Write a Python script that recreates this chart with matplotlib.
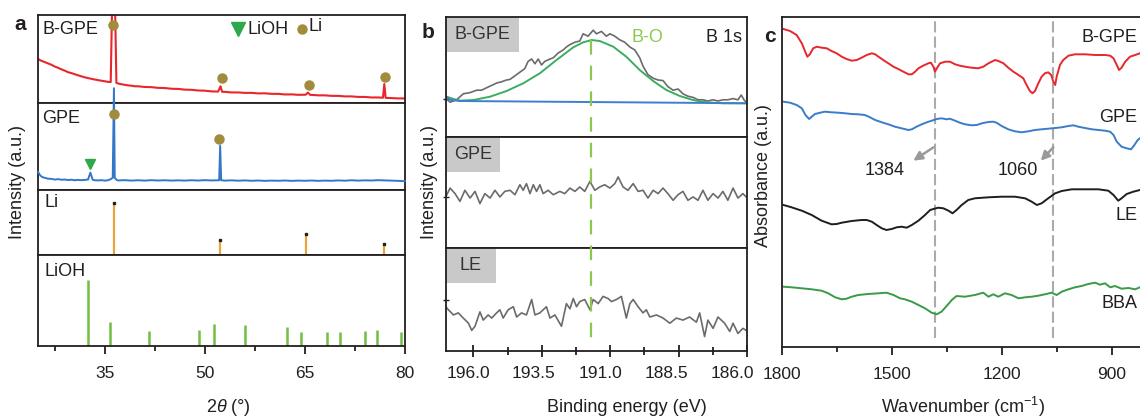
import matplotlib
matplotlib.use("Agg")
import matplotlib.pyplot as plt
import matplotlib.transforms as mtransforms
from matplotlib.lines import Line2D
from matplotlib.patches import Rectangle

plt.rcParams['font.family'] = ['Liberation Sans', 'DejaVu Sans']
plt.rcParams['mathtext.fontset'] = 'custom'
plt.rcParams['mathtext.rm'] = 'Liberation Sans'
plt.rcParams['mathtext.it'] = 'Liberation Sans:italic'
plt.rcParams['lines.scale_dashes'] = False

# ---------------- a: XRD ----------------
bgpe_tt = [25.0, 25.5, 26.0, 26.5, 27.0, 27.5, 28.0, 28.5, 29.0, 29.5, 30.0, 30.5, 31.0, 31.5,
           32.0, 32.5, 33.0, 33.5, 34.0, 34.5, 35.0, 35.5, 35.9, 36.15, 36.5, 36.75, 37.0, 37.5,
           38.0, 38.5, 39.0, 39.5, 40, 41, 42, 43, 44, 45, 46, 47, 48, 49, 50, 51, 52.0, 52.35,
           52.6, 53, 54, 55, 56, 57, 58, 59, 60, 61, 62, 63, 64, 65.1, 65.45, 65.8, 66, 67, 68,
           69, 70, 71, 72, 73, 74, 75, 76, 76.7, 76.9, 77.1, 78, 79, 80]
bgpe_int = [0.50, 0.48, 0.465, 0.45, 0.435, 0.415, 0.40, 0.383, 0.368, 0.35, 0.34, 0.327, 0.315,
            0.303, 0.292, 0.283, 0.275, 0.267, 0.26, 0.253, 0.247, 0.24, 0.238, 1.3, 1.3, 0.228,
            0.222, 0.213, 0.207, 0.2, 0.197, 0.19, 0.19, 0.182, 0.18, 0.172, 0.17, 0.162, 0.16,
            0.152, 0.15, 0.142, 0.14, 0.132, 0.13, 0.19, 0.127, 0.127, 0.12, 0.12, 0.115, 0.115,
            0.109, 0.11, 0.104, 0.104, 0.097, 0.098, 0.093, 0.094, 0.118, 0.092, 0.092, 0.087,
            0.087, 0.081, 0.081, 0.075, 0.075, 0.069, 0.069, 0.063, 0.063, 0.06, 0.215, 0.058,
            0.056, 0.052, 0.052]

gpe_tt = [25.0, 25.3, 25.6, 26.0, 26.5, 27.0, 27.5, 28.0, 28.5, 29.0, 29.5, 30.0, 30.5, 31.0,
          31.5, 32.0, 32.5, 32.85, 33.2, 33.5, 34.0, 34.5, 35.0, 35.5, 35.9, 36.2, 36.38, 36.5,
          36.8, 37.0, 38, 39, 40, 41, 42, 43, 44, 45, 46, 47, 48, 49, 50, 51, 52.15, 52.3, 52.45,
          53, 54, 55, 56, 57, 58, 59, 60, 61, 62, 63, 64, 65, 66, 67, 68, 69, 70, 71, 72, 73, 74,
          75, 76, 77, 78, 79, 80]
gpe_int = [0.21, 0.17, 0.15, 0.14, 0.13, 0.128, 0.12, 0.125, 0.118, 0.12, 0.115, 0.118, 0.112,
           0.116, 0.113, 0.116, 0.12, 0.2, 0.118, 0.112, 0.11, 0.113, 0.108, 0.112, 0.125, 0.14,
           1.17, 0.14, 0.115, 0.11, 0.113, 0.108, 0.112, 0.108, 0.113, 0.109, 0.112, 0.108, 0.111,
           0.108, 0.112, 0.109, 0.113, 0.11, 0.112, 0.51, 0.112, 0.108, 0.111, 0.107, 0.11, 0.106,
           0.109, 0.105, 0.108, 0.106, 0.109, 0.105, 0.108, 0.106, 0.109, 0.105, 0.108, 0.106,
           0.11, 0.107, 0.112, 0.108, 0.111, 0.109, 0.113, 0.11, 0.108, 0.105, 0.102]

li_pos = [36.4, 52.3, 65.2, 76.8]
li_h = [0.80, 0.23, 0.32, 0.17]
lioh_pos = [32.55, 35.8, 41.6, 49.15, 51.45, 56.0, 62.25, 64.35, 68.25, 70.2, 73.95, 75.85, 79.45]
lioh_h = [0.725, 0.26, 0.16, 0.18, 0.24, 0.23, 0.205, 0.154, 0.154, 0.154, 0.17, 0.176, 0.154]

bgpe_li_mark_x = [36.3, 52.55, 65.55, 76.95]
bgpe_li_mark_y = [0.886, 0.28, 0.205, 0.30]
gpe_li_mark_x = [36.35, 52.1]
gpe_li_mark_y = [0.87, 0.59]
gpe_lioh_mark_x = [32.85]
gpe_lioh_mark_y = [0.30]

# ---------------- b: XPS B 1s ----------------
xps_bgpe_be = [197.0, 196.85, 196.61, 196.37, 196.12, 195.88, 195.70, 195.52, 195.33, 195.15,
               194.97, 194.79, 194.66, 194.48, 194.30, 194.12, 194.00, 193.87, 193.75, 193.63,
               193.51, 193.39, 193.20, 193.08, 192.90, 192.72, 192.60, 192.47, 192.29, 192.11,
               191.99, 191.81, 191.62, 191.50, 191.32, 191.14, 191.01, 190.83, 190.65, 190.47,
               190.28, 190.10, 189.92, 189.80, 189.62, 189.43, 189.25, 189.07, 188.89, 188.70,
               188.52, 188.34, 188.16, 187.97, 187.79, 187.61, 187.43, 187.24, 187.06, 186.88,
               186.70, 186.51, 186.33, 186.21, 186.11, 186.03]
xps_bgpe_int = [0.32, 0.29, 0.31, 0.36, 0.37, 0.39, 0.39, 0.41, 0.43, 0.45, 0.46, 0.475, 0.48,
                0.51, 0.54, 0.57, 0.63, 0.65, 0.61, 0.65, 0.60, 0.63, 0.65, 0.66, 0.70, 0.725,
                0.75, 0.77, 0.79, 0.80, 0.86, 0.84, 0.89, 0.86, 0.88, 0.84, 0.86, 0.84, 0.81,
                0.79, 0.75, 0.725, 0.66, 0.59, 0.52, 0.49, 0.475, 0.47, 0.42, 0.39, 0.40, 0.36,
                0.34, 0.33, 0.31, 0.31, 0.30, 0.31, 0.30, 0.31, 0.31, 0.32, 0.31, 0.35, 0.31, 0.29]
fit_be = [196.98, 196.73, 196.49, 196.0, 195.39, 194.79, 194.18, 193.57, 192.96, 192.35, 191.99,
          191.68, 191.38, 190.89, 190.41, 189.92, 189.43, 188.95, 188.46, 187.97, 187.49, 186.88,
          186.27, 186.05]
fit_bo = [0.336, 0.317, 0.303, 0.308, 0.336, 0.383, 0.447, 0.531, 0.642, 0.747, 0.789, 0.808,
          0.80, 0.753, 0.669, 0.558, 0.467, 0.392, 0.342, 0.308, 0.289, 0.281, 0.281, 0.281]
bg_be = [197.0, 196.85, 196.49, 186.0]
bg_int = [0.336, 0.31, 0.30, 0.281]

xps_gpe_be = [197.01, 196.85, 196.67, 196.49, 196.31, 196.12, 195.94, 195.76, 195.58, 195.39,
              195.21, 195.03, 194.85, 194.66, 194.48, 194.30, 194.18, 194.06, 193.93, 193.81,
              193.69, 193.57, 193.45, 193.27, 193.08, 192.84, 192.66, 192.47, 192.29, 192.11,
              191.93, 191.74, 191.56, 191.38, 191.20, 191.01, 190.83, 190.71, 190.53, 190.35,
              190.16, 189.98, 189.80, 189.62, 189.43, 189.25, 189.07, 188.89, 188.70, 188.52,
              188.34, 188.16, 187.97, 187.79, 187.61, 187.43, 187.24, 187.06, 186.88, 186.70,
              186.51, 186.33, 186.15, 186.03]
xps_gpe_int = [0.46, 0.54, 0.49, 0.42, 0.52, 0.45, 0.51, 0.40, 0.49, 0.45, 0.52, 0.46, 0.51,
               0.52, 0.48, 0.57, 0.52, 0.58, 0.49, 0.57, 0.51, 0.57, 0.49, 0.52, 0.48, 0.51,
               0.49, 0.54, 0.51, 0.55, 0.51, 0.60, 0.52, 0.55, 0.57, 0.54, 0.58, 0.64, 0.55,
               0.52, 0.58, 0.51, 0.52, 0.45, 0.52, 0.49, 0.54, 0.49, 0.43, 0.48, 0.51, 0.43,
               0.46, 0.43, 0.52, 0.43, 0.49, 0.45, 0.51, 0.43, 0.54, 0.45, 0.49, 0.46]

xps_le_be = [197.01, 196.91, 196.73, 196.55, 196.37, 196.18, 196.06, 195.94, 195.76, 195.64,
             195.46, 195.33, 195.15, 195.03, 194.91, 194.73, 194.54, 194.42, 194.24, 194.06,
             193.87, 193.75, 193.57, 193.33, 193.2, 193.02, 192.78, 192.6, 192.47, 192.35,
             192.23, 192.11, 191.93, 191.74, 191.62, 191.44, 191.26, 191.08, 190.95, 190.77,
             190.59, 190.41, 190.28, 190.16, 189.98, 189.8, 189.68, 189.55, 189.31, 189.07,
             188.82, 188.58, 188.34, 188.1, 187.85, 187.73, 187.55, 187.43, 187.24, 187.06,
             186.82, 186.63, 186.51, 186.33, 186.15, 186.03]
xps_le_int = [0.43, 0.40, 0.35, 0.37, 0.32, 0.27, 0.20, 0.24, 0.38, 0.30, 0.35, 0.32, 0.37,
              0.40, 0.32, 0.40, 0.43, 0.33, 0.37, 0.35, 0.50, 0.35, 0.37, 0.43, 0.32, 0.35,
              0.24, 0.46, 0.41, 0.51, 0.43, 0.48, 0.50, 0.40, 0.50, 0.46, 0.53, 0.51, 0.48,
              0.50, 0.53, 0.32, 0.46, 0.50, 0.43, 0.37, 0.40, 0.33, 0.35, 0.32, 0.27, 0.32,
              0.30, 0.33, 0.28, 0.37, 0.14, 0.30, 0.22, 0.33, 0.27, 0.19, 0.27, 0.17, 0.22, 0.20]
bo_position = 191.7
be_ticks = [196.0, 193.5, 191.0, 188.5, 186.0]

# ---------------- c: FTIR ----------------
ftir_bgpe_wn = [1796, 1778, 1760, 1746, 1731, 1724, 1715, 1705, 1692, 1678, 1665, 1651, 1637,
                1624, 1610, 1596, 1583, 1569, 1555, 1546, 1537, 1524, 1510, 1496, 1483, 1469,
                1455, 1446, 1437, 1428, 1415, 1401, 1394, 1387, 1383, 1375, 1369, 1355, 1342,
                1328, 1315, 1301, 1283, 1265, 1251, 1237, 1219, 1210, 1196, 1183, 1169, 1155,
                1142, 1133, 1124, 1117, 1110, 1101, 1092, 1083, 1074, 1066, 1060, 1055, 1051,
                1042, 1033, 1019, 1001, 974, 946, 919, 905, 896, 887, 881, 874, 864, 851, 837, 824]
ftir_bgpe_abs = [318, 316, 312, 303.7, 290.3, 292.7, 298.7, 300.3, 299.3, 298.7, 296, 293.7,
                 290.3, 288, 286.3, 287, 289.3, 292, 293.7, 292.7, 290.3, 287, 283.7, 280.3, 278,
                 275.3, 272.7, 272.7, 275.3, 278.7, 281.3, 283.7, 284.3, 280.3, 275.3, 280.3,
                 283.7, 285.3, 285.3, 282.7, 281.3, 280.3, 279.3, 278.7, 280.3, 283.7, 287, 286,
                 283.7, 279.3, 275.3, 272, 268.7, 262, 256, 253.7, 256, 263.7, 270.3, 273.7,
                 274.7, 272, 265.3, 262, 270.3, 282, 287, 291.3, 292.7, 292.7, 292, 292, 291.3,
                 288.7, 282, 277, 279.3, 285.3, 290.3, 292, 293.7]

ftir_gpe_wn = [1796, 1778, 1760, 1746, 1736, 1726, 1719, 1710, 1696, 1683, 1665, 1646, 1628,
               1610, 1592, 1574, 1560, 1546, 1528, 1510, 1492, 1474, 1455, 1446, 1433, 1419,
               1405, 1392, 1378, 1365, 1351, 1342, 1328, 1315, 1301, 1283, 1269, 1255, 1237,
               1224, 1215, 1201, 1183, 1165, 1146, 1128, 1110, 1092, 1074, 1055, 1037, 1019,
               1005, 992, 974, 955, 937, 919, 905, 896, 887, 874, 860, 848, 839, 830, 824]
ftir_gpe_abs = [245.3, 244.3, 242, 238.7, 232, 228, 230.3, 233, 234.3, 235.3, 234.7, 234.3,
                233.7, 233, 232.7, 232, 229.7, 227, 224.7, 222.7, 220.3, 218.7, 217, 217.7,
                220.3, 222.7, 224.7, 226.3, 228, 228.7, 227.7, 228.3, 226.3, 224.3, 222.7,
                221.7, 222, 223.7, 225, 225.3, 224.3, 221, 217.7, 215.7, 214.7, 215.7, 217,
                217.7, 218.3, 219, 219.7, 221, 221.7, 220.3, 219, 217.7, 217, 216.3, 215.3, 212,
                205.3, 200.3, 198.7, 197.7, 202, 207, 208.7]

ftir_le_wn = [1796, 1774, 1746, 1719, 1692, 1665, 1651, 1637, 1610, 1583, 1569, 1555, 1542,
              1528, 1515, 1501, 1487, 1474, 1460, 1446, 1428, 1410, 1396, 1387, 1374, 1360,
              1346, 1335, 1324, 1310, 1292, 1274, 1237, 1201, 1165, 1137, 1119, 1105, 1092,
              1074, 1055, 1037, 1010, 974, 937, 910, 896, 883, 874, 860, 842, 824]
ftir_le_abs = [142, 139.7, 136.3, 132, 126.3, 122.7, 123, 124.3, 126, 127, 127, 125.3, 122,
               118.7, 117, 118, 119.7, 120.3, 119.3, 122, 126.3, 132, 137, 138, 139.3, 138.7,
               136.3, 133.7, 137, 142, 147, 148.7, 149.7, 150.3, 150.3, 148.7, 145.3, 142,
               143.7, 148.7, 153.7, 156, 157.7, 157.7, 157.7, 156.3, 152, 146.3, 148.7, 153,
               155.3, 157]

ftir_bba_wn = [1796, 1774, 1746, 1719, 1692, 1674, 1655, 1637, 1624, 1610, 1592, 1565, 1537,
               1515, 1496, 1478, 1465, 1446, 1428, 1410, 1392, 1378, 1365, 1351, 1337, 1324,
               1301, 1274, 1251, 1237, 1224, 1210, 1192, 1174, 1155, 1137, 1119, 1101, 1083,
               1065, 1051, 1037, 1019, 1001, 983, 965, 946, 933, 919, 905, 892, 874, 855, 837, 824]
ftir_bba_abs = [60.3, 59.7, 58.7, 57.7, 56.3, 53.7, 49.7, 47.7, 48.3, 50.3, 52, 53, 53.7, 54.3,
                52, 48.7, 47.7, 45.3, 42, 38.7, 34.3, 32.7, 35.3, 41, 47, 51, 50.3, 52, 54.3,
                50.3, 52.7, 50.3, 53.7, 52, 48.7, 49.7, 50.3, 51.3, 52.7, 54.3, 52, 55.3, 57.7,
                59.7, 61, 63, 64.3, 62.3, 63.7, 59.7, 61, 58.3, 59, 57.7, 59.7]

marked_wn = [1384, 1060]
marked_labels = ['1384', '1060']

# ---------------- layout ----------------
W, H = 1140, 417
fig = plt.figure(figsize=(W / 100, H / 100), dpi=100)
ink = '#231F20'
red = '#E8262B'
blue = '#3378C8'
gold = '#A08C3C'
tri_green = '#2DA84A'


def box(l, t, r, b):
    return [l / W, 1 - b / H, (r - l) / W, (b - t) / H]


def frame(ax, lw=1.3):
    for s in ax.spines.values():
        s.set_linewidth(lw)
        s.set_color(ink)


# panel a
a1 = fig.add_axes(box(38, 15, 405, 103))
a2 = fig.add_axes(box(38, 103, 405, 190))
a3 = fig.add_axes(box(38, 190, 405, 255))
a4 = fig.add_axes(box(38, 255, 405, 346))
for ax in (a1, a2, a3, a4):
    ax.set_xlim(25, 80)
    ax.set_ylim(0, 1)
    ax.set_yticks([])
    frame(ax)
for ax in (a1, a2, a3):
    ax.set_xticks([])

a1.plot(bgpe_tt, bgpe_int, color=red, lw=1.5)
a1.plot(bgpe_li_mark_x, bgpe_li_mark_y, 'o', color=gold, ms=6.5, zorder=5)
a1.plot([55.0], [0.84], 'v', color=tri_green, ms=10, clip_on=False)
a1.text(56.4, 0.84, 'LiOH', fontsize=13, color=ink, va='center')
a1.plot([64.6], [0.84], 'o', color=gold, ms=6.5)
a1.text(65.5, 0.87, 'Li', fontsize=13, color=ink, va='center')
a1.text(0.012, 0.84, 'B-GPE', transform=a1.transAxes, fontsize=13, color=ink, va='center')

a2.plot(gpe_tt, gpe_int, color=blue, lw=1.4, clip_on=False, zorder=4)
a2.plot(gpe_li_mark_x, gpe_li_mark_y, 'o', color=gold, ms=6.5, zorder=5)
a2.plot(gpe_lioh_mark_x, gpe_lioh_mark_y, 'v', color=tri_green, ms=7.5, zorder=5)
a2.text(0.012, 0.82, 'GPE', transform=a2.transAxes, fontsize=13, color=ink, va='center')

a3.vlines(li_pos, 0, li_h, color='#E9A43C', lw=1.6)
a3.plot(li_pos, li_h, 's', color='#222222', ms=1.8)
a3.text(0.018, 0.8, 'Li', transform=a3.transAxes, fontsize=13, color=ink, va='center')

a4.vlines(lioh_pos, 0, lioh_h, color='#73BF44', lw=1.8)
a4.text(0.018, 0.82, 'LiOH', transform=a4.transAxes, fontsize=13, color=ink, va='center')
a4.set_xticks([35, 50, 65, 80])
a4.set_xticks([27.5, 42.5, 57.5, 72.5], minor=True)
a4.tick_params(axis='x', which='major', direction='out', length=6, width=1.3,
               labelsize=12.5, pad=8.5, colors=ink)
a4.tick_params(axis='x', which='minor', direction='out', length=3.5, width=1.3, colors=ink)

# panel b
b1 = fig.add_axes(box(446, 17, 747, 137))
b2 = fig.add_axes(box(446, 137, 747, 248))
b3 = fig.add_axes(box(446, 248, 747, 351))
gray = '#6B6B6B'
b1.plot(xps_bgpe_be, xps_bgpe_int, color=gray, lw=1.2)
b1.plot(fit_be, fit_bo, color='#3AAE5E', lw=1.4)
b1.plot(bg_be, bg_int, color='#3E7ED0', lw=1.4)
b2.plot(xps_gpe_be, xps_gpe_int, color=gray, lw=1.2)
b3.plot(xps_le_be, xps_le_int, color=gray, lw=1.2)

tags = [(b1, 'B-GPE', 0.2425, 35 / 120, [0.32]),
        (b2, 'GPE', 0.179, 35 / 111, [0.46]),
        (b3, 'LE', 0.166, 35 / 103, [0.5])]
for ax, name, bw, bh, yt in tags:
    ax.set_xlim(197, 186)
    ax.set_ylim(0, 1)
    frame(ax)
    ax.set_yticks(yt)
    ax.set_yticklabels([])
    ax.tick_params(axis='y', direction='inout', length=4, width=1, colors=ink)
    ax.add_patch(Rectangle((0, 1 - bh), bw, bh, transform=ax.transAxes,
                           facecolor='#C9C9C9', edgecolor='none', zorder=0))
    ax.text(bw / 2, 1 - bh / 2, name, transform=ax.transAxes, fontsize=13,
            color='#333333', ha='center', va='center')
for ax in (b1, b2):
    ax.set_xticks([])
b1.text(189.63, 0.83, 'B-O', fontsize=13, color='#8CC850', ha='center', va='center')
b1.text(0.985, 0.83, 'B 1s', transform=b1.transAxes, fontsize=13, color=ink,
        ha='right', va='center')
b3.set_xticks(be_ticks)
b3.set_xticklabels(['%.1f' % v for v in be_ticks])
b3.set_xticks([194.75, 192.25, 189.75, 187.25], minor=True)
b3.tick_params(axis='x', which='major', direction='inout', length=9, width=1.3,
               labelsize=12.5, pad=6.5, colors=ink)
b3.tick_params(axis='x', which='minor', direction='inout', length=5.5, width=1.3, colors=ink)
# the tick labels sit a little left of their ticks in the original figure
for lab, dx in zip(b3.get_xticklabels(), [-5, -8, -10, -12, -15]):
    lab.set_transform(lab.get_transform() +
                      mtransforms.ScaledTranslation(dx / 100, 0, fig.dpi_scale_trans))

tr = mtransforms.blended_transform_factory(b3.transData, fig.transFigure)
fig.add_artist(Line2D([bo_position, bo_position], [1 - 40 / H, 1 - 338 / H], transform=tr,
                      color='#8CC850', lw=1.6, dashes=(10.5, 8)))

# panel c
c = fig.add_axes(box(782, 17, 1141, 347))
c.set_xlim(1800, 821)
c.set_ylim(0, 330)
frame(c)
c.spines['right'].set_visible(False)
c.set_yticks([])
c.plot(ftir_bgpe_wn, ftir_bgpe_abs, color=red, lw=1.4)
c.plot(ftir_gpe_wn, ftir_gpe_abs, color='#3A7CC9', lw=1.4)
c.plot(ftir_le_wn, ftir_le_abs, color='#1E1E1E', lw=1.4)
c.plot(ftir_bba_wn, ftir_bba_abs, color='#3A9A48', lw=1.4)
for wn in marked_wn:
    c.axvline(wn, ymin=0.027, ymax=1, color='#ABABAB', lw=1.5, dashes=(8, 3), zorder=0)
c.annotate('', xy=(1442, 186.3), xytext=(1387, 199.7),
           arrowprops=dict(arrowstyle='-|>', color='#9A9A9A', lw=1.8, mutation_scale=13,
                           shrinkA=0, shrinkB=0))
c.annotate('', xy=(1094.5, 186.3), xytext=(1060, 199.7),
           arrowprops=dict(arrowstyle='-|>', color='#9A9A9A', lw=1.8, mutation_scale=13,
                           shrinkA=0, shrinkB=0))
c.text(1519, 177, marked_labels[0], fontsize=13, color=ink, ha='center', va='center')
c.text(1157, 177, marked_labels[1], fontsize=13, color=ink, ha='center', va='center')
for name, yv in [('B-GPE', 310), ('GPE', 230), ('LE', 132), ('BBA', 43)]:
    c.text(831, yv, name, fontsize=13, color=ink, ha='right', va='center')
c.set_xticks([1800, 1500, 1200, 900])
c.set_xticks([1650, 1350, 1050], minor=True)
c.tick_params(axis='x', which='major', direction='out', length=6, width=1.3,
              labelsize=12.5, pad=8.5, colors=ink)
c.tick_params(axis='x', which='minor', direction='out', length=3.5, width=1.3, colors=ink)

# labels
fig.text(20 / W, 1 - 24 / H, 'a', fontsize=15, weight='bold', color=ink, ha='center', va='center')
fig.text(428 / W, 1 - 33 / H, 'b', fontsize=15, weight='bold', color=ink, ha='center', va='center')
fig.text(770 / W, 1 - 37 / H, 'c', fontsize=15, weight='bold', color=ink, ha='center', va='center')
fig.text(18 / W, 1 - 182 / H, 'Intensity (a.u.)', rotation=90, fontsize=13, color=ink,
         ha='center', va='center')
fig.text(430 / W, 1 - 182 / H, 'Intensity (a.u.)', rotation=90, fontsize=13, color=ink,
         ha='center', va='center')
fig.text(764 / W, 1 - 176 / H, 'Absorbance (a.u.)', rotation=90, fontsize=13, color=ink,
         ha='center', va='center')
fig.text(228 / W, 1 - 407 / H, r'2$\theta$ (°)', fontsize=13, color=ink, ha='center', va='center')
fig.text(627 / W, 1 - 407 / H, 'Binding energy (eV)', fontsize=13, color=ink,
         ha='center', va='center')
fig.text(963 / W, 1 - 407 / H, r'Wavenumber (cm$^{\mathregular{-1}}$)', fontsize=13, color=ink,
         ha='center', va='center')

fig.savefig('out.png', dpi=100)
